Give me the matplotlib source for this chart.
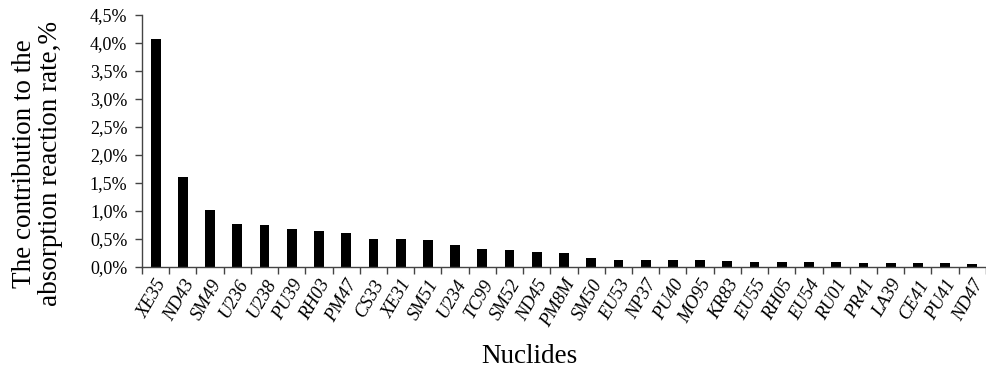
import numpy as np
import matplotlib.pyplot as plt
from matplotlib.ticker import FuncFormatter

nuclides = ["XE35", "ND43", "SM49", "U236", "U238", "PU39", "RH03", "PM47",
            "CS33", "XE31", "SM51", "U234", "TC99", "SM52", "ND45", "PM8M",
            "SM50", "EU53", "NP37", "PU40", "MO95", "KR83", "EU55", "RH05",
            "EU54", "RU01", "PR41", "LA39", "CE41", "PU41", "ND47"]
contribution = [4.08, 1.60, 1.01, 0.76, 0.74, 0.67, 0.63, 0.61,
                0.50, 0.50, 0.48, 0.38, 0.32, 0.30, 0.26, 0.24,
                0.16, 0.12, 0.12, 0.12, 0.12, 0.10, 0.085, 0.085,
                0.085, 0.085, 0.066, 0.066, 0.066, 0.066, 0.042]

serif = "Liberation Serif"

fig = plt.figure(figsize=(9.87, 3.69), dpi=100)
ax = fig.add_axes([0.1439, 0.2772, 0.855, 0.6821])

x = np.arange(len(nuclides))
ax.bar(x, contribution, width=0.36, color="black")

ax.set_xlim(-0.5, len(nuclides) - 0.5)
ax.set_ylim(0, 4.5)
ax.set_yticks(np.arange(0, 4.51, 0.5))
ax.yaxis.set_major_formatter(FuncFormatter(lambda v, p: f"{v:.1f}%".replace(".", ",")))
for lab in ax.get_yticklabels():
    lab.set_fontfamily(serif)
    lab.set_fontsize(13)

ax.set_xticks(x)
ax.set_xticklabels(nuclides, rotation=60, ha="right", rotation_mode="anchor",
                   fontfamily=serif, fontstyle="italic", fontsize=13.5)
ax.set_xticks(np.arange(-0.5, len(nuclides), 1), minor=True)
ax.tick_params(axis="x", which="major", length=0, pad=7)
ax.tick_params(axis="x", which="minor", length=5, width=1, color="#444444")
ax.tick_params(axis="y", length=5, width=1, color="#444444", pad=5.5)

for side in ["top", "right"]:
    ax.spines[side].set_visible(False)
for side in ["left", "bottom"]:
    ax.spines[side].set_color("#444444")
    ax.spines[side].set_linewidth(1)

ax.set_ylabel("The contribution to the\nabsorption reaction rate,%",
              fontfamily=serif, fontsize=19.5, linespacing=1.05)
ax.yaxis.set_label_coords(-0.0935, 0.41)
ax.set_xlabel("Nuclides", fontfamily=serif, fontsize=19.5)
ax.xaxis.set_label_coords(0.459, -0.307)

fig.savefig("out.png", dpi=100)
